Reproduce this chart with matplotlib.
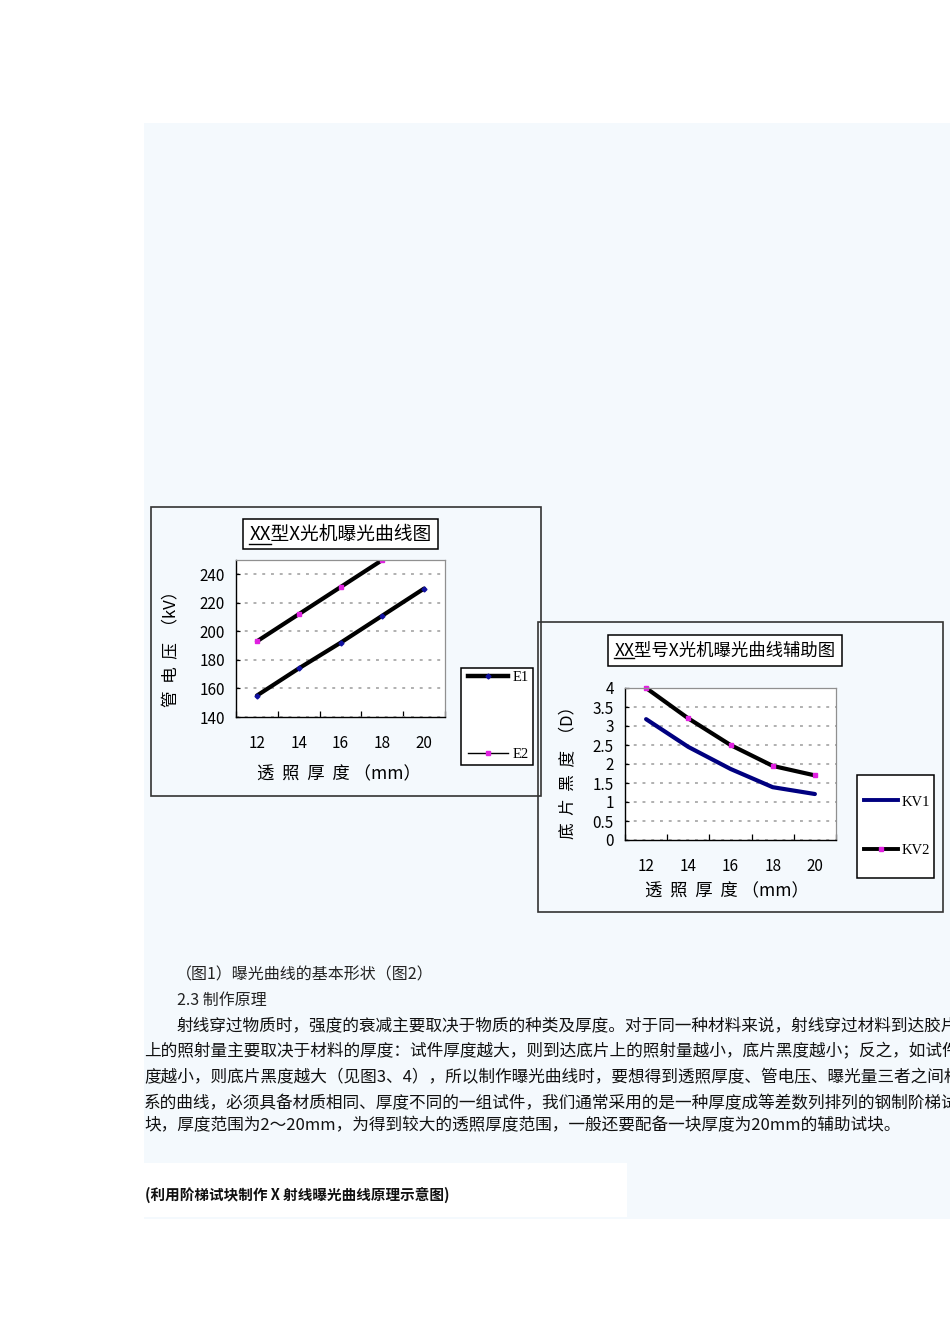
import matplotlib
matplotlib.use('Agg')
import matplotlib.pyplot as plt
from matplotlib.patches import Rectangle
from matplotlib.lines import Line2D
import numpy as np

plt.rcParams['font.family'] = ['Noto Sans CJK SC', 'DejaVu Sans']

# Data
thickness = ['12', '14', '16', '18', '20']
e1_kv = [155, 174, 192, 211, 230]
e2_kv = [193, 212, 231, 250, 269]
kv1_density = [3.18, 2.45, 1.87, 1.39, 1.21]
kv2_density = [4.0, 3.2, 2.5, 1.95, 1.7]

kv_ticks = [140, 160, 180, 200, 220, 240]
d_ticks = [0, 0.5, 1, 1.5, 2, 2.5, 3, 3.5, 4]
d_tick_labels = ['0', '0.5', '1', '1.5', '2', '2.5', '3', '3.5', '4']

paragraph = [
    '射线穿过物质时，强度的衰减主要取决于物质的种类及厚度。对于同一种材料来说，射线穿过材料到达胶片',
    '上的照射量主要取决于材料的厚度：试件厚度越大，则到达底片上的照射量越小，底片黑度越小；反之，如试件厚',
    '度越小，则底片黑度越大（见图3、4），所以制作曝光曲线时，要想得到透照厚度、管电压、曝光量三者之间相对关',
    '系的曲线，必须具备材质相同、厚度不同的一组试件，我们通常采用的是一种厚度成等差数列排列的钢制阶梯试',
    '块，厚度范围为2～20mm，为得到较大的透照厚度范围，一般还要配备一块厚度为20mm的辅助试块。',
]

W, H = 950, 1344
PAGE_BG = '#f4f9fd'


def fx(x):
    return x / W


def fy(y):
    return 1 - y / H


def rect(fig, x0, y0, x1, y1, fc='none', ec='none', lw=1.0, z=0):
    fig.add_artist(Rectangle((fx(x0), fy(y1)), (x1 - x0) / W, (y1 - y0) / H,
                             transform=fig.transFigure, fc=fc, ec=ec, lw=lw, zorder=z))


def axes_at(fig, x0, y0, x1, y1):
    ax = fig.add_axes([fx(x0), fy(y1), (x1 - x0) / W, (y1 - y0) / H])
    ax.set_zorder(1)
    return ax


def style_plot(ax, ymin, ymax, yticks, ylabels):
    x = np.arange(len(thickness))
    ax.set_facecolor('white')
    ax.set_xlim(-0.5, len(thickness) - 0.5)
    ax.set_ylim(ymin, ymax)
    ax.set_xticks(x)
    ax.set_xticklabels(thickness)
    ax.set_xticks(np.arange(len(thickness) + 1) - 0.5, minor=True)
    ax.set_yticks(yticks)
    ax.set_yticklabels(ylabels)
    ax.tick_params(axis='x', which='major', length=0, pad=13, labelsize=11)
    ax.tick_params(axis='x', which='minor', direction='in', length=4, width=0.9)
    ax.tick_params(axis='y', direction='in', length=3, width=0.9, pad=8, labelsize=11)
    ax.grid(axis='y', color='#b0b0b0', linestyle=(0, (1.5, 3)), linewidth=1.4)
    for s in ['top', 'right']:
        ax.spines[s].set_color('#909090')
        ax.spines[s].set_linewidth(0.9)
    for s in ['left', 'bottom']:
        ax.spines[s].set_color('black')
        ax.spines[s].set_linewidth(1.0)
    return x


def title_box(fig, x0, y0, x1, y1, prefix, rest, size):
    rect(fig, x0, y0, x1, y1, fc='white', ec='black', lw=1.1, z=2)
    t = fig.text(fx((x0 + x1) / 2), fy((y0 + y1) / 2), prefix + rest,
                 ha='center', va='center', fontsize=size, zorder=3)
    fig.canvas.draw()
    r = fig.canvas.get_renderer()
    full = t.get_window_extent(r)
    p = fig.text(0, 0, prefix, fontsize=size, alpha=0)
    pw = p.get_window_extent(r).width
    yb = full.y0 + 1
    fig.add_artist(Line2D([full.x0 / W, (full.x0 + pw) / W], [yb / H, yb / H],
                          transform=fig.transFigure, color='black', lw=1.0, zorder=3))


def main():
    fig = plt.figure(figsize=(9.5, 13.44), dpi=100)
    fig.patch.set_facecolor('white')

    # page background blocks
    rect(fig, 144, 123, 950, 1219, fc=PAGE_BG, z=-2)
    rect(fig, 144, 1163, 627, 1217, fc='white', z=-1)

    # chart frames
    rect(fig, 151, 507, 541, 796, ec='#333333', lw=1.2, z=1)
    rect(fig, 538, 622, 943, 912, ec='#333333', lw=1.2, z=1)

    # ---- Chart 1: tube voltage vs thickness ----
    ax1 = axes_at(fig, 236, 560, 445, 717)
    x = style_plot(ax1, 140, 250, kv_ticks, [str(v) for v in kv_ticks])
    ax1.plot(x, e1_kv, color='black', lw=3.0, marker='D', ms=2.5,
             mfc='#1010a0', mec='#1010a0', solid_capstyle='round')
    ax1.plot(x, e2_kv, color='black', lw=3.0, marker='s', ms=2.2,
             mfc='#e020e0', mec='#e020e0', solid_capstyle='round')

    title_box(fig, 243, 519, 438, 549, 'XX', '型X光机曝光曲线图', 13.5)
    fig.text(fx(172), fy(645), '管  电  压  （kV）', rotation=90, ha='center', va='center',
             fontsize=12)
    fig.text(fx(339), fy(774), '透  照  厚  度 （mm）', ha='center', va='center',
             fontsize=12.5)

    rect(fig, 461, 668, 533, 765, fc='white', ec='black', lw=1.1, z=2)
    h1 = [Line2D([], [], color='black', lw=3.2, marker='D', ms=2.5,
                 mfc='#1010a0', mec='#1010a0'),
          Line2D([], [], color='black', lw=1.0, marker='s', ms=2.2,
                 mfc='#e020e0', mec='#e020e0')]
    leg1 = fig.legend(h1, ['E1', 'E2'], loc='center', bbox_to_anchor=(fx(498), fy(716)),
                      frameon=False, handlelength=2.8,
                      handletextpad=0.25, labelspacing=4.4,
                      prop={'family': 'Liberation Serif', 'size': 10.5})
    leg1.set_zorder(5)

    # ---- Chart 2: film density vs thickness ----
    ax2 = axes_at(fig, 625, 688, 836, 840)
    x = style_plot(ax2, 0, 4, d_ticks, d_tick_labels)
    ax2.plot(x, kv1_density, color='#000080', lw=3.0, solid_capstyle='round')
    ax2.plot(x, kv2_density, color='black', lw=3.0, marker='s', ms=2.5,
             mfc='#e020e0', mec='#e020e0', solid_capstyle='round', clip_on=False)

    title_box(fig, 608, 635, 842, 666, 'XX', '型号X光机曝光曲线辅助图', 12.5)
    fig.text(fx(568), fy(768), '底  片  黑  度  （D）', rotation=90, ha='center', va='center',
             fontsize=12)
    fig.text(fx(727), fy(891), '透  照  厚  度 （mm）', ha='center', va='center',
             fontsize=12.5)

    rect(fig, 857, 775, 934, 878, fc='white', ec='black', lw=1.1, z=2)
    h2 = [Line2D([], [], color='#000080', lw=2.8),
          Line2D([], [], color='black', lw=2.8, marker='s', ms=2.5,
                 mfc='#e020e0', mec='#e020e0')]
    leg2 = fig.legend(h2, ['KV1', 'KV2'], loc='center', bbox_to_anchor=(fx(897), fy(826)),
                      frameon=False, handlelength=2.3,
                      handletextpad=0.25, labelspacing=2.4,
                      prop={'family': 'Liberation Serif', 'size': 10.5})
    leg2.set_zorder(5)

    # ---- body text ----
    fig.text(fx(176), fy(975), '（图1）曝光曲线的基本形状（图2）', va='center', fontsize=11.5,
             color='#222222')
    fig.text(fx(177), fy(1000), '2.3 制作原理', va='center', fontsize=11.5, color='#222222')
    line_y = [1026, 1052, 1078, 1104, 1126]
    for i, (txt, y) in enumerate(zip(paragraph, line_y)):
        fig.text(fx(177 if i == 0 else 144), fy(y), txt, va='center', fontsize=12,
                 color='#111111')
    fig.text(fx(145), fy(1195), '(利用阶梯试块制作 X 射线曝光曲线原理示意图)', va='center',
             fontsize=10.5, fontweight='bold', color='#111111')

    fig.savefig('out.png', dpi=100)


if __name__ == '__main__':
    main()
